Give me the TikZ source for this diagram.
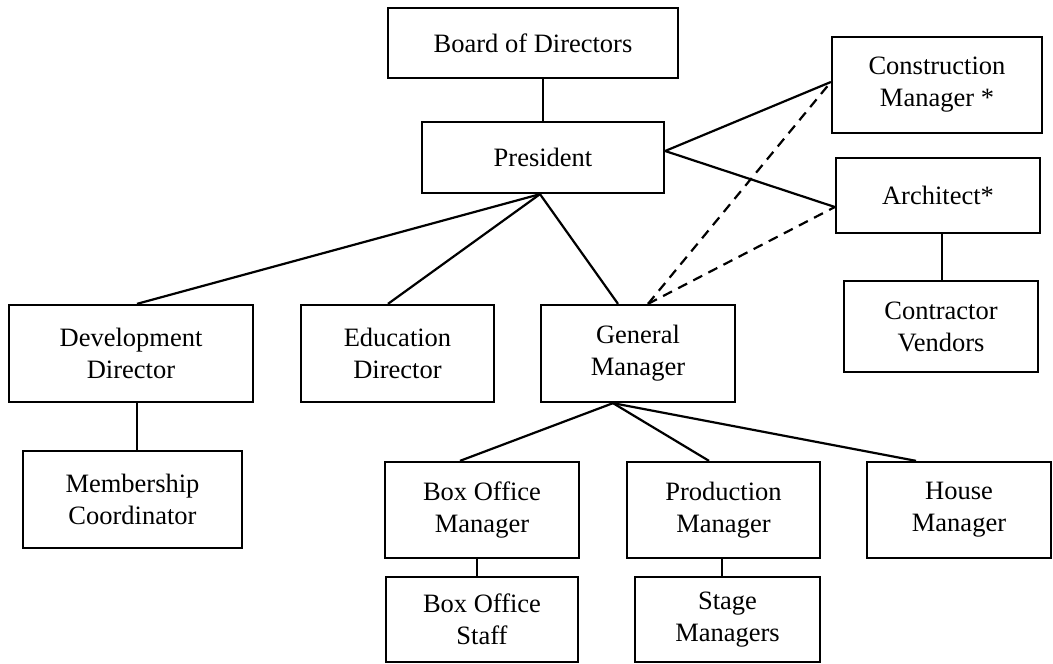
\documentclass[tikz,border=0pt]{standalone}
\usepackage{fontspec}
\setmainfont{Liberation Serif}
\begin{document}
\begin{tikzpicture}[x=1pt,y=-1pt,
  orgbox/.style={draw, line width=2.3pt, inner sep=0pt, align=center,
    font=\fontsize{26.5}{32}\selectfont},
  link/.style={line width=2.2pt},
  dlink/.style={line width=2.2pt, dash pattern=on 10pt off 7pt}]
\useasboundingbox (0,0) rectangle (1053,664);
% boxes
\node[orgbox, minimum width=290pt, minimum height=70pt] (board) at (533,43) {Board of Directors};
\node[orgbox, minimum width=242pt, minimum height=71pt] (pres) at (543,157.5) {President};
\node[orgbox, minimum width=210pt, minimum height=96pt] (cm) at (937,85) {Construction\\Manager *};
\node[orgbox, minimum width=204pt, minimum height=75pt] (arch) at (938,195.5) {Architect*};
\node[orgbox, minimum width=194pt, minimum height=91pt] (cv) at (941,326.5) {Contractor\\Vendors};
\node[orgbox, minimum width=244pt, minimum height=97pt] (dev) at (131,353.5) {Development\\Director};
\node[orgbox, minimum width=193pt, minimum height=97pt] (edu) at (397.5,353.5) {Education\\Director};
\node[orgbox, minimum width=194pt, minimum height=97pt] (gm) at (638,353.5) {General\\Manager};
\node[orgbox, minimum width=219pt, minimum height=97pt] (mem) at (132.5,499.5) {Membership\\Coordinator};
\node[orgbox, minimum width=194pt, minimum height=96pt] (bom) at (482,510) {Box Office\\Manager};
\node[orgbox, minimum width=193pt, minimum height=96pt] (prod) at (723.5,510) {Production\\Manager};
\node[orgbox, minimum width=184pt, minimum height=96pt] (house) at (959,510) {House\\Manager};
\node[orgbox, minimum width=192pt, minimum height=85pt] (bos) at (482,619.5) {Box Office\\Staff};
\node[orgbox, minimum width=185pt, minimum height=85pt] (stage) at (727.5,619.5) {Stage\\Managers};
% connection points
\coordinate (presR) at ([yshift=6.5pt]pres.east);
\coordinate (presB) at ([xshift=-3pt]pres.south);
\coordinate (gmT) at ([xshift=10pt]gm.north);
\coordinate (gmB) at ([xshift=-25pt]gm.south);
\coordinate (cmL) at ([yshift=3pt]cm.west);
\coordinate (archL) at ([yshift=-11.5pt]arch.west);
% connectors
\draw[link] (pres.north) -- (pres.north |- board.south);
\draw[link] (presR) -- (cmL);
\draw[link] (presR) -- (archL);
\draw[dlink] (gmT) -- (cmL);
\draw[dlink] (gmT) -- (archL);
\draw[link] (presB) -- ([xshift=6pt]dev.north);
\draw[link] (presB) -- ([xshift=-9.5pt]edu.north);
\draw[link] (presB) -- ([xshift=-20pt]gm.north);
\draw[link] (gmB) -- ([xshift=-22pt]bom.north);
\draw[link] (gmB) -- ([xshift=-14.5pt]prod.north);
\draw[link] (gmB) -- ([xshift=-43pt]house.north);
\draw[link] ([xshift=6pt]dev.south) -- ([xshift=6pt]dev.south |- mem.north);
\draw[link] ([xshift=4pt]arch.south) -- ([xshift=4pt]arch.south |- cv.north);
\draw[link] ([xshift=-5pt]bom.south) -- ([xshift=-5pt]bom.south |- bos.north);
\draw[link] ([xshift=-1.5pt]prod.south) -- ([xshift=-1.5pt]prod.south |- stage.north);
\end{tikzpicture}
\end{document}
